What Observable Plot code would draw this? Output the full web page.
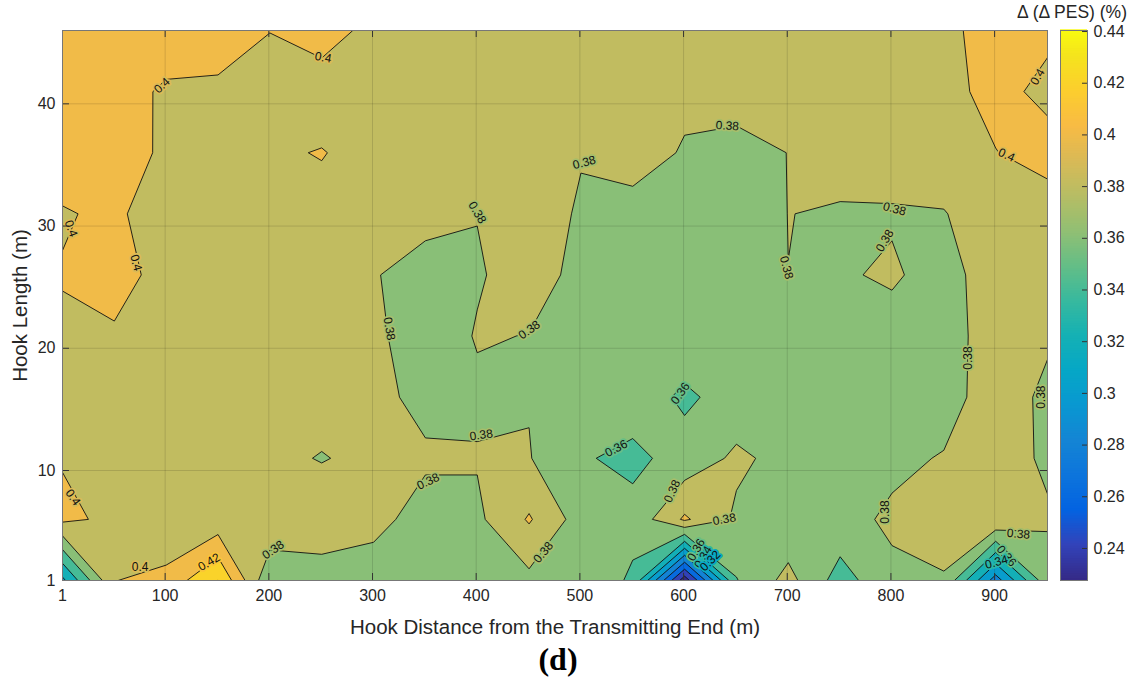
<!DOCTYPE html>
<html><head><meta charset="utf-8">
<script src="https://cdn.jsdelivr.net/npm/d3@7"></script>
<script src="https://cdn.jsdelivr.net/npm/@observablehq/plot@0.6"></script>
<style>
body{margin:0;background:#fff;font-family:"Liberation Sans",Arial,Helvetica,sans-serif;}
#wrap{position:relative;width:1135px;height:684px;overflow:hidden;}
#cbar{position:absolute;left:1040px;top:0;}
#cbtitle{position:absolute;right:8px;top:2px;font-size:17.5px;color:#262626;white-space:nowrap;}
#caption{position:absolute;left:0;width:1116px;top:641px;text-align:center;font:bold 32px "Liberation Serif","Times New Roman",serif;color:#000;}
</style></head>
<body><div id="wrap"><div id="main"></div><div id="cbar"></div><div id="cbtitle">Δ (Δ PES) (%)</div><div id="caption">(d)</div></div>
<script>
// Grid sample positions
const hookDistance = [1,51,101,151,201,251,301,351,401,451,501,551,601,651,701,751,801,851,901,951];
const hookLength = [1,6,11,16,21,26,31,36,41,46];
// Δ(Δ PES) (%) values, one row per hook length
const dPES_L1  = [0.315,0.3995,0.4064,0.4404,0.363,0.3755,0.370,0.370,0.372,0.3748,0.374,0.357,0.2276,0.359,0.3866,0.3511,0.376,0.378,0.290,0.374];
const dPES_L6  = [0.404,0.396,0.381,0.3867,0.397,0.386,0.386,0.372,0.376,0.402,0.371,0.366,0.403,0.3765,0.364,0.374,0.383,0.391,0.399,0.3815];
const dPES_L11 = [0.3988,0.395,0.392,0.388,0.3823,0.3795,0.3824,0.383,0.3815,0.381,0.3618,0.3557,0.367,0.3839,0.3734,0.372,0.376,0.3812,0.386,0.3779];
const dPES_L16 = [0.392,0.392,0.391,0.390,0.389,0.384,0.386,0.374,0.376,0.379,0.370,0.369,0.357,0.367,0.372,0.373,0.374,0.372,0.390,0.376];
const dPES_L21 = [0.3972,0.3987,0.392,0.390,0.390,0.389,0.385,0.3671,0.3815,0.3795,0.372,0.371,0.3706,0.371,0.372,0.372,0.3724,0.372,0.389,0.3825];
const dPES_L26 = [0.401,0.404,0.3963,0.393,0.392,0.391,0.3812,0.3724,0.378,0.389,0.3742,0.372,0.370,0.372,0.3799,0.378,0.38253,0.372,0.391,0.392];
const dPES_L31 = [0.3985,0.4035,0.3895,0.393,0.392,0.3958,0.393,0.386,0.3805,0.389,0.378,0.3718,0.372,0.365,0.3803,0.378,0.378,0.379,0.392,0.3901];
const dPES_L36 = [0.410,0.4085,0.397,0.395,0.3982,0.40063,0.3949,0.392,0.390,0.390,0.381,0.390,0.378,0.3753,0.3802,0.388,0.390,0.392,0.3995,0.4075];
const dPES_L41 = [0.410,0.4058,0.398,0.3985,0.388,0.3927,0.390,0.388,0.386,0.386,0.386,0.386,0.385,0.386,0.388,0.390,0.392,0.394,0.406,0.395];
const dPES_L46 = [0.410,0.410,0.408,0.404,0.4005,0.406,0.396,0.392,0.390,0.390,0.390,0.390,0.390,0.390,0.392,0.394,0.396,0.397,0.405,0.404];

const contourLevels = [0.24,0.26,0.28,0.30,0.32,0.34,0.36,0.38,0.40,0.42,0.44];
const xTicks = [1,100,200,300,400,500,600,700,800,900];
const yTicks = [1,10,20,30,40];
const colorbarTicks = [0.24,0.26,0.28,0.30,0.32,0.34,0.36,0.38,0.40,0.42,0.44];

// contour labels (data coordinates, text, angle)
const labelX = [97,252.4,9.2,71.9,401,504.2,642.2,803.4,794.1,699.2,941.4,911.5,316.1,451.2,404.8,353.7,535.1,596.9,589.1,464.7,639.3,874.3,944.8,794.1,923.0,204.1,75.8,142.4,11.1,612.2,619,625.8,911.5,901.8];
const labelY = [41.5,43.8,29.8,27.0,31.1,35.2,38.2,31.4,28.8,26.6,42.2,35.8,21.6,21.5,12.9,9.1,11.8,16.3,8.3,3.3,6.0,19.2,16.0,6.6,4.8,3.5,2.1,2.5,7.8,3.5,2.9,2.6,3.0,2.5];
const labelText = ["0.4","0.4","0.4","0.4","0.38","0.38","0.38","0.38","0.38","0.38","0.4","0.4","0.38","0.38","0.38","0.38","0.36","0.36","0.38","0.38","0.38","0.38","0.38","0.38","0.38","0.38","0.4","0.42","0.4","0.36","0.34","0.32","0.36","0.34"];
const labelAngle = [-42,10,70,75,60,-15,3,15,-60,75,-60,25,80,-35,-8,-25,-28,-55,-65,-50,-10,-90,-90,-90,5,-35,0,-30,55,-60,-60,-45,50,-15];

// parula colormap stops (MATLAB), at index positions out of 63
const parulaPos = [0,4,8,12,16,20,24,28,32,36,40,44,48,52,56,60,63];
const parulaHex = ["#352a87","#3243ba","#0363e1","#0d75dc","#1485d4","#0998d1","#06a7c6","#15b1b4","#38b99e","#65be86","#92bf73","#b7bd64","#d9ba56","#f8bb44","#fcce2e","#f5e41d","#f9fb0e"];
const parulaScale = d3.scaleLinear().domain(parulaPos.map(p => p / 63)).range(parulaHex).interpolate(d3.interpolateRgb).clamp(true);
const parula = t => parulaScale(t);

const rows = [dPES_L1,dPES_L6,dPES_L11,dPES_L16,dPES_L21,dPES_L26,dPES_L31,dPES_L36,dPES_L41,dPES_L46];
const values = rows.flat();
const [zMin, zMax] = d3.extent(values);
const nx = hookDistance.length, ny = hookLength.length;
const dx = hookDistance[1] - hookDistance[0], dy = hookLength[1] - hookLength[0];
const labels = labelText.map((t, i) => ({x: labelX[i], y: labelY[i], t, a: labelAngle[i]}));
const cmap = v => parula((v - zMin) / (zMax - zMin));

// Contour on negated values (region "value <= level"), so that saddle cells
// join the higher corners as MATLAB does; each band is coloured by its lower level.
const negValues = values.map(v => -v);
const upper = [zMax, ...contourLevels.slice().reverse()];          // 0.4404, 0.44, 0.42, ... 0.24
const lower = [...contourLevels.slice().reverse(), zMin];           // 0.44, 0.42, ..., 0.24, min
const negThresholds = upper.map(v => -v);                           // ascending
const bandColors = lower.map(cmap);

const font = "Liberation Sans, Arial, Helvetica, sans-serif";
const mL = 62, mR = 88, mT = 30, mB = 65, W = 1135, H = 645;
const frameW = W - mL - mR, frameH = H - mT - mB;

// one text mark per label level, with a halo in the colour between the two bands it separates
const labelLevels = Array.from(new Set(labelText));
const labelMarks = labelLevels.map(t => Plot.text(labels.filter(d => d.t === t), {
  x: "x", y: "y", text: "t", rotate: "a", fontSize: 12, fill: "#111", fontFamily: font,
  stroke: cmap(+t - 0.01), strokeWidth: 3.5
}));

const main = Plot.plot({
  width: W, height: H,
  marginLeft: mL, marginRight: mR, marginTop: mT, marginBottom: mB,
  style: {fontFamily: font, fontSize: "16px", color: "#262626", background: "transparent", overflow: "visible"},
  x: {domain: [hookDistance[0], hookDistance[nx - 1]], axis: null},
  y: {domain: [hookLength[0], hookLength[ny - 1]], axis: null},
  color: {type: "linear", domain: negThresholds, range: bandColors},
  marks: [
    Plot.contour(negValues, {
      width: nx, height: ny,
      x1: hookDistance[0] - dx / 2, x2: hookDistance[nx - 1] + dx / 2,
      y1: hookLength[0] - dy / 2, y2: hookLength[ny - 1] + dy / 2,
      fill: Plot.identity,
      thresholds: negThresholds,
      stroke: "#111", strokeWidth: 0.9, clip: true
    }),
    Plot.gridX(xTicks, {stroke: "#000", strokeOpacity: 0.13}),
    Plot.gridY(yTicks, {stroke: "#000", strokeOpacity: 0.13}),
    ...labelMarks,
    Plot.ruleX(xTicks, {insetTop: frameH - 7, stroke: "#333"}),
    Plot.ruleX(xTicks, {insetBottom: frameH - 7, stroke: "#333"}),
    Plot.ruleY(yTicks, {insetRight: frameW - 7, stroke: "#333"}),
    Plot.ruleY(yTicks, {insetLeft: frameW - 7, stroke: "#333"}),
    Plot.frame({stroke: "#777"}),
    Plot.axisX(xTicks, {tickSize: 0, tickPadding: 9, fontSize: 16, tickFormat: d => String(d), label: null}),
    Plot.axisY(yTicks, {tickSize: 0, tickPadding: 7, fontSize: 16, tickFormat: d => String(d), label: null}),
    Plot.text(["Hook Distance from the Transmitting End (m)"], {frameAnchor: "bottom", dy: 53, fontSize: 20.5, fill: "#262626", fontFamily: font}),
    Plot.text(["Hook Length (m)"], {frameAnchor: "left", dx: -42, rotate: -90, textAnchor: "middle", fontSize: 20.5, fill: "#262626", fontFamily: font})
  ]
});
document.getElementById("main").appendChild(main);

const nb = 220;
const bands = d3.range(nb).map(i => ({lo: zMin + (zMax - zMin) * i / nb, hi: zMin + (zMax - zMin) * (i + 1) / nb}));
const cb = Plot.plot({
  width: 95, height: H,
  marginLeft: 20, marginRight: 48, marginTop: mT, marginBottom: mB,
  style: {fontFamily: font, fontSize: "16px", color: "#262626", background: "transparent", overflow: "visible"},
  x: {axis: null},
  y: {domain: [zMin, zMax], axis: null},
  color: {type: "linear", domain: [zMin, zMax], interpolate: parula},
  marks: [
    Plot.rect(bands, {y1: "lo", y2: "hi", fill: "lo", insetTop: -0.7, insetBottom: -0.7}),
    Plot.ruleY(colorbarTicks, {insetLeft: 22, stroke: "#333"}),
    Plot.frame({stroke: "#777"}),
    Plot.axisY(colorbarTicks, {anchor: "right", tickSize: 0, tickPadding: 6, fontSize: 16, tickFormat: d => String(+d.toFixed(2)), label: null})
  ]
});
document.getElementById("cbar").appendChild(cb);
</script>
</body></html>
